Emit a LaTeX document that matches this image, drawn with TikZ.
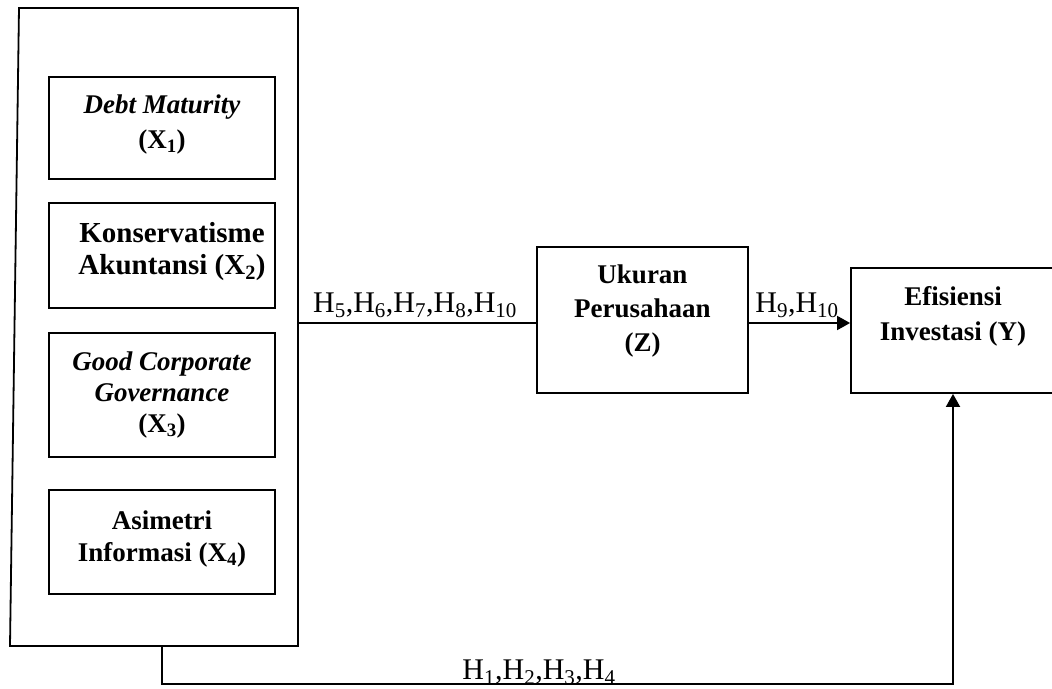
\documentclass[tikz,border=0pt]{standalone}
\usepackage{fontspec}
\setmainfont{Liberation Serif}
\usetikzlibrary{arrows.meta}
\begin{document}
\begin{tikzpicture}[x=1pt,y=-1pt,line width=1.8pt,
  box/.style={draw,line join=miter,inner sep=0pt},
  lbl/.style={font=\fontsize{27}{34}\selectfont\bfseries,align=center,inner sep=0pt},
  hyp/.style={font=\fontsize{30}{34}\selectfont,inner sep=0pt,anchor=base},
  arr/.style={-{Triangle[length=13pt,width=14pt]}}]
\useasboundingbox (0,0) rectangle (1052,688);
% outer container
\coordinate (o1) at (19,8);
\coordinate (o2) at (298,8);
\coordinate (o3) at (298,646);
\coordinate (o4) at (10,646);
\draw[line join=miter] (o1) -- (o2) -- (o3) -- (o4) -- cycle;
\coordinate (outR) at (298,323);
\coordinate (outB) at (162,646);
% inner boxes
\node[box,minimum width=226pt,minimum height=102pt] (x1) at (162,128) {};
\node[box,minimum width=226pt,minimum height=105pt] (x2) at (162,255.5) {};
\node[box,minimum width=226pt,minimum height=124pt] (x3) at (162,395) {};
\node[box,minimum width=226pt,minimum height=104pt] (x4) at (162,542) {};
\node[box,minimum width=211pt,minimum height=146pt] (uk) at (642.5,320) {};
\node[box,minimum width=204pt,minimum height=125pt] (ef) at (953,330.5) {};
% texts
\node[lbl,font=\fontsize{27}{35}\selectfont\bfseries] (t1) at (162,125) {\textit{Debt Maturity}\\(X\textsubscript{1})};
\node[lbl,font=\fontsize{29}{32}\selectfont\bfseries] (t2) at (172,252) {Konservatisme\\Akuntansi (X\textsubscript{2})};
\node[lbl,font=\fontsize{27}{31}\selectfont\bfseries] (t3) at (162,395) {\textit{Good Corporate}\\\textit{Governance}\\(X\textsubscript{3})};
\node[lbl,font=\fontsize{27}{32}\selectfont\bfseries] (t4) at (162,539) {Asimetri\\Informasi (X\textsubscript{4})};
\node[lbl] (tz) at (642.5,311) {Ukuran\\Perusahaan\\(Z)};
\node[lbl,font=\fontsize{27}{35}\selectfont\bfseries] (ty) at (953,316) {Efisiensi\\Investasi (Y)};
% connectors
\draw (outR) -- (outR -| uk.west);
\draw[arr] (uk.east |- outR) -- (ef.west |- outR);
\coordinate (bc) at (953,684);
\draw[arr] (outB) |- (bc) -- (ef.south);
% hypothesis labels
\node[hyp] (h5) at (415,312) {H\textsubscript{5},H\textsubscript{6},H\textsubscript{7},H\textsubscript{8},H\textsubscript{10}};
\node[hyp] (h9) at (797,312) {H\textsubscript{9},H\textsubscript{10}};
\node[hyp] (h1) at (539,679) {H\textsubscript{1},H\textsubscript{2},H\textsubscript{3},H\textsubscript{4}};
\end{tikzpicture}
\end{document}
